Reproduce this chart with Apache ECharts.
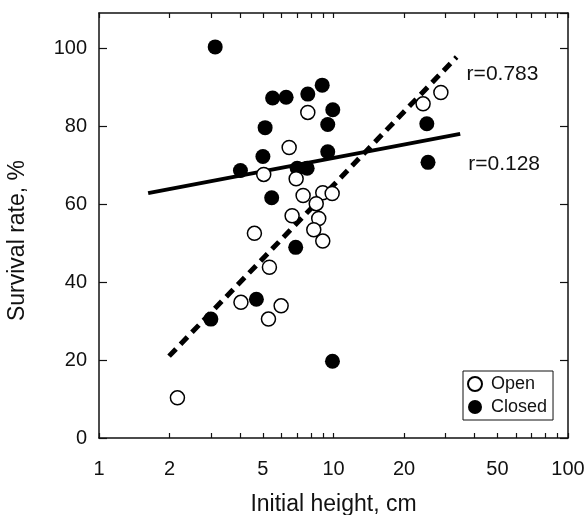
<!DOCTYPE html>
<html>
<head>
<meta charset="utf-8">
<script src="https://cdn.jsdelivr.net/npm/echarts@6/dist/echarts.min.js"></script>
<style>
  html, body { margin: 0; padding: 0; background: #fff; }
  #survivalChart { width: 587px; height: 515px; }
</style>
</head>
<body>
<div id="survivalChart"></div>
<script>
// initial height (cm) / survival rate (%)
const openHeight = [7.77, 6.47, 5.04, 6.93, 7.42, 9.00, 9.87, 8.44, 6.66, 8.65, 8.24, 4.60, 9.00, 5.33, 4.03, 5.98, 5.28, 2.16, 28.7, 24.1]
const openSurvival = [83.5, 74.5, 67.6, 66.5, 62.2, 62.9, 62.7, 60.1, 57.0, 56.3, 53.4, 52.5, 50.5, 43.8, 34.8, 33.9, 30.5, 10.3, 88.6, 85.7]
const closedHeight = [3.13, 5.50, 6.28, 7.77, 8.95, 9.93, 9.45, 5.11, 5.00, 9.45, 4.01, 7.00, 7.72, 5.45, 6.90, 4.69, 3.00, 9.90, 25.0, 25.3]
const closedSurvival = [100.3, 87.2, 87.4, 88.2, 90.5, 84.2, 80.4, 79.6, 72.2, 73.4, 68.6, 69.2, 69.2, 61.6, 48.9, 35.6, 30.5, 19.7, 80.6, 70.7]

// regression lines (end points)
const openFitX = [1.99, 33.5]
const openFitY = [21.0, 97.7]
const closedFitX = [1.62, 34.7]
const closedFitY = [62.8, 78.0]

const xLabelValues = [1, 2, 5, 10, 20, 50, 100]
const xTickValues = [1, 2, 3, 4, 5, 6, 7, 8, 9, 10, 20, 30, 40, 50, 60, 70, 80, 90, 100]

const FONT = '"Liberation Sans", Arial, Helvetica, sans-serif'
const INK = '#111'

function pairs(xs, ys) {
  return xs.map((x, i) => [x, ys[i]])
}

function xAxisCfg(pos, withLabels) {
  return {
    type: 'log',
    logBase: 10,
    min: 1,
    max: 100,
    position: pos,
    axisLine: { show: true, onZero: false, lineStyle: { color: INK, width: 1.5 } },
    axisTick: { show: true, inside: true, length: 5, customValues: xTickValues, lineStyle: { color: INK, width: 1.2 } },
    axisLabel: {
      show: withLabels,
      customValues: xLabelValues,
      margin: 21,
      color: INK,
      fontSize: 20,
      fontFamily: FONT
    },
    splitLine: { show: false },
    minorTick: { show: false }
  }
}

function yAxisCfg(pos, withLabels) {
  return {
    type: 'value',
    min: 0,
    max: 109,
    interval: 20,
    position: pos,
    axisLine: { show: true, onZero: false, lineStyle: { color: INK, width: 1.5 } },
    axisTick: { show: true, inside: true, length: 8, lineStyle: { color: INK, width: 1.2 } },
    axisLabel: {
      show: withLabels,
      showMaxLabel: false,
      margin: 12,
      color: INK,
      fontSize: 20,
      fontFamily: FONT,
      formatter: v => (v % 20 === 0 ? String(v) : '')
    },
    splitLine: { show: false }
  }
}

const xBottom = xAxisCfg('bottom', true)
xBottom.name = 'Initial height, cm'
xBottom.nameLocation = 'middle'
xBottom.nameGap = 55
xBottom.nameTextStyle = { color: INK, fontSize: 23, fontFamily: FONT }

const yLeft = yAxisCfg('left', true)
yLeft.name = 'Survival rate, %'
yLeft.nameLocation = 'middle'
yLeft.nameGap = 70
yLeft.nameTextStyle = { color: INK, fontSize: 23, fontFamily: FONT, padding: [0, 30, 0, 0] }

const option = {
  animation: false,
  backgroundColor: '#fff',
  grid: { left: 99, right: 19, top: 13, bottom: 77, containLabel: false, outerBoundsMode: 'none' },
  xAxis: [xBottom, xAxisCfg('top', false)],
  yAxis: [yLeft, yAxisCfg('right', false)],
  legend: {
    data: ['Open', 'Closed'],
    orient: 'vertical',
    left: 463,
    top: 371,
    padding: [4, 6, 4, 4],
    itemGap: 5,
    itemWidth: 14,
    itemHeight: 14,
    borderColor: INK,
    borderWidth: 1,
    borderRadius: 0,
    backgroundColor: '#fff',
    textStyle: { color: INK, fontSize: 18, fontFamily: FONT, padding: [0, 0, 0, 4] }
  },
  series: [
    {
      name: 'openFit',
      type: 'line',
      data: pairs(openFitX, openFitY),
      symbol: 'none',
      lineStyle: { color: '#000', width: 5, type: [10, 6.5], cap: 'butt' },
      endLabel: { show: true, formatter: 'r=0.783', offset: [2, 17], color: INK, fontSize: 21, fontFamily: FONT },
      z: 1,
      silent: true
    },
    {
      name: 'closedFit',
      type: 'line',
      data: pairs(closedFitX, closedFitY),
      symbol: 'none',
      lineStyle: { color: '#000', width: 4, type: 'solid' },
      endLabel: { show: true, formatter: 'r=0.128', offset: [0, 30], color: INK, fontSize: 21, fontFamily: FONT },
      z: 1,
      silent: true
    },
    {
      name: 'Closed',
      type: 'scatter',
      data: pairs(closedHeight, closedSurvival),
      symbol: 'circle',
      symbolSize: 15,
      itemStyle: { color: '#000', opacity: 1 },
      z: 3
    },
    {
      name: 'Open',
      type: 'scatter',
      data: pairs(openHeight, openSurvival),
      symbol: 'circle',
      symbolSize: 14,
      itemStyle: { color: '#fff', borderColor: '#000', borderWidth: 1.5, opacity: 1 },
      z: 4
    }
  ]
}

const chart = echarts.init(document.getElementById('survivalChart'))
chart.setOption(option)
</script>
</body>
</html>
